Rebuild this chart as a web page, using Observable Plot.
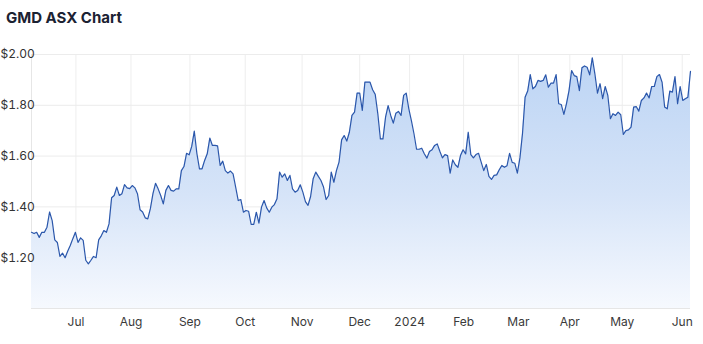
<!DOCTYPE html>
<html>
<head>
<meta charset="utf-8">
<script src="https://cdn.jsdelivr.net/npm/d3@7"></script>
<script src="https://cdn.jsdelivr.net/npm/@observablehq/plot@0.6"></script>
<style>
  html, body { margin: 0; padding: 0; background: #fff; }
  #wrap { width: 703px; height: 344px; position: relative; overflow: hidden; }
  #title { height: 40px; box-sizing: border-box; padding: 8px 0 0 6px; font-family: Inter, "Noto Sans", sans-serif; font-weight: 700; font-size: 15px; line-height: 20px; color: #1b2232; }
  svg { display: block; }
</style>
</head>
<body>
<div id="wrap">
  <div id="title">GMD ASX Chart</div>
  <div id="chart"></div>
</div>
<script>
// Daily closing prices (trading days, Jun 2023 – Jun 2024)
const prices = [
  1.300,1.295,1.300,1.280,1.300,1.300,1.320,1.380,1.346,1.270,
  1.260,1.205,1.218,1.200,1.225,1.248,1.275,1.300,1.260,1.278,
  1.268,1.190,1.176,1.190,1.205,1.200,1.270,1.286,1.307,1.300,
  1.333,1.436,1.445,1.478,1.445,1.452,1.488,1.475,1.472,1.484,
  1.475,1.452,1.389,1.380,1.357,1.353,1.393,1.452,1.493,1.471,
  1.445,1.412,1.465,1.484,1.465,1.462,1.471,1.471,1.543,1.559,
  1.611,1.605,1.638,1.698,1.610,1.550,1.550,1.583,1.609,1.671,
  1.642,1.642,1.640,1.563,1.580,1.543,1.533,1.541,1.530,1.478,
  1.425,1.429,1.379,1.386,1.383,1.331,1.331,1.379,1.336,1.399,
  1.425,1.396,1.379,1.399,1.409,1.432,1.537,1.517,1.530,1.504,
  1.524,1.471,1.458,1.465,1.487,1.458,1.421,1.406,1.441,1.511,
  1.537,1.520,1.504,1.478,1.429,1.445,1.537,1.497,1.543,1.576,
  1.664,1.681,1.659,1.694,1.760,1.773,1.848,1.848,1.780,1.891,
  1.891,1.891,1.861,1.843,1.767,1.668,1.668,1.753,1.799,1.760,
  1.730,1.769,1.776,1.760,1.839,1.848,1.786,1.740,1.688,1.627,
  1.627,1.631,1.609,1.592,1.618,1.625,1.642,1.648,1.619,1.593,
  1.606,1.602,1.533,1.585,1.566,1.556,1.602,1.625,1.609,1.694,
  1.606,1.593,1.606,1.611,1.576,1.543,1.567,1.520,1.508,1.524,
  1.526,1.546,1.563,1.556,1.562,1.611,1.575,1.572,1.533,1.593,
  1.690,1.832,1.856,1.921,1.865,1.874,1.898,1.894,1.898,1.920,
  1.871,1.887,1.887,1.921,1.806,1.803,1.764,1.806,1.858,1.937,
  1.917,1.913,1.858,1.948,1.955,1.950,1.920,1.987,1.924,1.848,
  1.885,1.826,1.874,1.839,1.747,1.767,1.760,1.773,1.763,1.685,
  1.700,1.703,1.714,1.793,1.795,1.777,1.819,1.829,1.848,1.829,
  1.874,1.874,1.913,1.921,1.891,1.793,1.786,1.856,1.852,1.913,
  1.806,1.874,1.819,1.826,1.832,1.934
];
// Trading-day positions of the first trading day of each month
const monthTickPos = [17.2, 38.5, 61.3, 82.7, 104.7, 127, 146.3, 167.2, 188.4, 208.3, 228.6, 251.8];
const monthTickLabels = ["Jul","Aug","Sep","Oct","Nov","Dec","2024","Feb","Mar","Apr","May","Jun"];
const priceTicks = [1.2, 1.4, 1.6, 1.8, 2.0];
const priceDomain = [1.0, 2.0];

const data = prices.map((v, i) => ({i, v}));
const labelOf = new Map(monthTickPos.map((p, k) => [p, monthTickLabels[k]]));

const gradientDefs = () => {
  const ns = "http://www.w3.org/2000/svg";
  const defs = document.createElementNS(ns, "defs");
  defs.innerHTML = `<linearGradient id="gmdFill" x1="0" y1="0" x2="0" y2="1">
      <stop offset="0" stop-color="#bcd4f4"/>
      <stop offset="0.55" stop-color="#d6e4f8"/>
      <stop offset="1" stop-color="#f6f9fe"/>
    </linearGradient>`;
  return defs;
};

const chart = Plot.plot({
  width: 703,
  height: 304,
  marginTop: 14,
  marginBottom: 36,
  marginLeft: 31,
  marginRight: 13,
  style: {fontFamily: "Inter, 'Noto Sans', sans-serif", fontSize: "12px", color: "#333", background: "#fff"},
  x: {type: "linear", domain: [0, prices.length - 1], label: null},
  y: {domain: priceDomain, label: null},
  marks: [
    gradientDefs,
    Plot.gridX(monthTickPos, {stroke: "#eeeeee", strokeOpacity: 1}),
    Plot.gridY(priceTicks, {stroke: "#ececec", strokeOpacity: 1}),
    Plot.ruleY([priceDomain[0]], {stroke: "#e6e6e6"}),
    Plot.ruleX([0], {stroke: "#e6e6e6"}),
    Plot.areaY(data, {x: "i", y1: () => priceDomain[0], y2: "v", fill: "url(#gmdFill)"}),
    Plot.lineY(data, {x: "i", y: "v", stroke: "#2b57ab", strokeWidth: 1.2}),
    Plot.axisX(monthTickPos, {tickSize: 0, tickPadding: 9, label: null, tickFormat: d => labelOf.get(d), fill: "#3a3a3a"}),
    Plot.axisY(priceTicks, {tickSize: 0, tickPadding: 0, label: null, textAnchor: "start", dx: -31, tickFormat: d => "$" + d.toFixed(2), fill: "#333"})
  ]
});
document.getElementById("chart").appendChild(chart);
</script>
</body>
</html>
